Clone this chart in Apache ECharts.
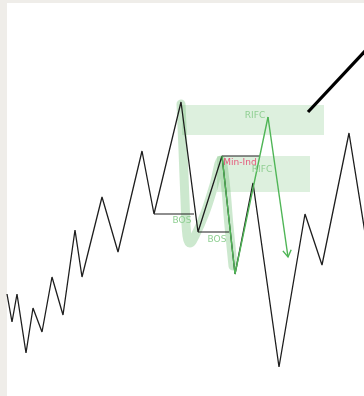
<!DOCTYPE html>
<html><head><meta charset="utf-8">
<script src="https://cdn.jsdelivr.net/npm/echarts@6/dist/echarts.min.js"></script>
<style>html,body{margin:0;padding:0;background:#efede9}#c{width:364px;height:396px}</style>
</head><body><div id="c"></div>
<script>
// Price path (time, price) — price level = chart units
var priceT = [7,12,17,26,33,42,52,63,75,82,102,118,142,154,181,198,222,235,253,279,305,322,349,366];
var priceV = [102,74,102,43,88,64,119,81,166,119,199,144,245,182,294,164,240,122,213,29,182,131,263,157];
// Structure levels
var bos1 = {t:[154,194], v:[182,182], label:'BOS', lt:182, lv:175};
var bos2 = {t:[198,229], v:[164,164], label:'BOS', lt:217, lv:156};
var minInd = {t:[222,260], v:[240,240], label:'Min-Ind', lt:240, lv:233};
// Projection path (green)
var projT = [222,235,268];
var projV = [240,122,279];
var arrowT = [268,288];
var arrowV = [279,139];
// Trend line
var trendT = [308,366];
var trendV = [284,346];
// Zones (t0, t1, vTop, vBottom)
var zone1 = [182,324,291,261];
var zone2 = [217,310,240,204];
var zoneLabels = [['RIFC',255,280],['RIFC',262,226]];
// Highlight stroke
var hlT = [181,183,185,187,190,195,205,214,221,225,229,233];
var hlV = [292,246,196,160,153,160,183,211,236,215,170,130];

function pairs(t,v){return t.map(function(x,i){return [x,v[i]];});}

var chart = echarts.init(document.getElementById('c'), null, {renderer:'canvas'});
var textData = [
  [bos1.lt,bos1.lv,bos1.label,'#8fcf92'],
  [bos2.lt,bos2.lv,bos2.label,'#8fcf92'],
  [minInd.lt,minInd.lv,minInd.label,'#e5577b'],
  [zoneLabels[0][1],zoneLabels[0][2],zoneLabels[0][0],'#8fcf92'],
  [zoneLabels[1][1],zoneLabels[1][2],zoneLabels[1][0],'#8fcf92']
];
var black = '#1e1e1e', green = '#4fb556';
var option = {
  backgroundColor:'#efede9',
  animation:false,
  grid:{left:7,top:3,right:0,bottom:0,show:true,backgroundColor:'#ffffff',borderWidth:0},
  xAxis:{type:'value',min:7,max:364,show:false},
  yAxis:{type:'value',min:0,max:393,show:false},
  series:[
    {type:'line',data:[],silent:true,z:1,
     markArea:{silent:true,itemStyle:{color:'rgba(120,195,125,0.25)'},
       data:[[{coord:[zone1[0],zone1[2]]},{coord:[zone1[1],zone1[3]]}],
             [{coord:[zone2[0],zone2[2]]},{coord:[zone2[1],zone2[3]]}]]}},
    {type:'line',data:pairs(hlT,hlV),smooth:0.4,symbol:'none',z:2,
     lineStyle:{color:'rgba(110,190,115,0.35)',width:9,cap:'round',join:'round'}},
    {type:'line',data:pairs(priceT,priceV),symbol:'none',z:3,lineStyle:{color:black,width:1.3}},
    {type:'line',data:pairs(bos1.t,bos1.v),symbol:'none',z:3,lineStyle:{color:black,width:1.2}},
    {type:'line',data:pairs(bos2.t,bos2.v),symbol:'none',z:3,lineStyle:{color:black,width:1.2}},
    {type:'line',data:pairs(minInd.t,minInd.v),symbol:'none',z:3,lineStyle:{color:black,width:1.2}},
    {type:'line',data:pairs(trendT,trendV),symbol:'none',z:3,lineStyle:{color:'#000',width:3.2}},
    {type:'line',data:pairs(projT,projV),symbol:'none',z:4,lineStyle:{color:green,width:1.4}},
    {type:'line',data:pairs(arrowT,arrowV),symbol:'none',z:4,lineStyle:{color:green,width:1.4}},
    {type:'custom',z:5,data:[[arrowT[0],arrowV[0],arrowT[1],arrowV[1]]],
     renderItem:function(params,api){
       var a=api.coord([api.value(0),api.value(1)]), b=api.coord([api.value(2),api.value(3)]);
       var ang=Math.atan2(b[1]-a[1],b[0]-a[0]), L=8, s=0.55;
       var p1=[b[0]-L*Math.cos(ang-s),b[1]-L*Math.sin(ang-s)];
       var p2=[b[0]-L*Math.cos(ang+s),b[1]-L*Math.sin(ang+s)];
       return {type:'polyline',shape:{points:[p1,b,p2]},style:{stroke:green,lineWidth:1.4,fill:null}};
     }},
    {type:'custom',z:6,data:textData,
     renderItem:function(params,api){
       var p=api.coord([api.value(0),api.value(1)]);
       var d=textData[params.dataIndex];
       return {type:'text',x:p[0],y:p[1],style:{text:d[2],fill:d[3],font:'9px "DejaVu Sans", sans-serif',align:'center',verticalAlign:'middle'}};
     }}
  ]
};
chart.setOption(option);
</script></body></html>
